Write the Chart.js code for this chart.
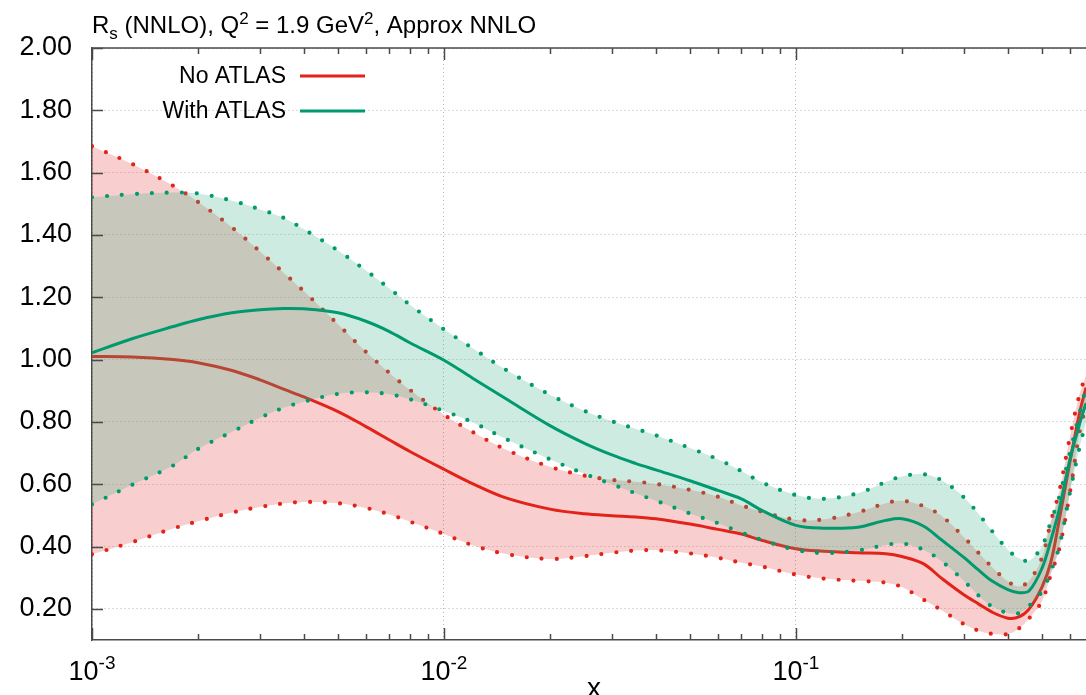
<!DOCTYPE html>
<html>
<head>
<meta charset="utf-8">
<script src="https://cdn.jsdelivr.net/npm/chart.js@4.4.0/dist/chart.umd.min.js"></script>
<style>
  html, body { margin: 0; padding: 0; background: #fff; }
  #wrap { width: 1086px; height: 695px; }
</style>
</head>
<body>
<div id="wrap"><canvas id="chart"></canvas></div>
<script>
// x grid shared by all curves
const xValues = [0.001, 0.0013, 0.0017, 0.002, 0.0025, 0.003, 0.0035, 0.004, 0.005, 0.006,
  0.007, 0.008, 0.01, 0.012, 0.015, 0.02, 0.025, 0.03, 0.035, 0.04,
  0.05, 0.06, 0.07, 0.08, 0.1, 0.12, 0.15, 0.18, 0.2, 0.23,
  0.26, 0.3, 0.33, 0.36, 0.4, 0.43, 0.46, 0.5, 0.53, 0.56,
  0.6, 0.64, 0.667];

// No ATLAS
const noAtlasCentral = [1.01, 1.008, 1.0, 0.99, 0.965, 0.935, 0.905, 0.88, 0.833, 0.785,
  0.742, 0.705, 0.648, 0.603, 0.556, 0.52, 0.505, 0.499, 0.495, 0.489,
  0.472, 0.455, 0.44, 0.42, 0.393, 0.385, 0.38, 0.377, 0.368, 0.345,
  0.297, 0.245, 0.216, 0.19, 0.17, 0.174, 0.2, 0.27, 0.35, 0.485,
  0.67, 0.83, 0.91];
const noAtlasUpper = [1.685, 1.628, 1.558, 1.506, 1.424, 1.347, 1.279, 1.219, 1.113, 1.025,
  0.957, 0.903, 0.823, 0.769, 0.711, 0.656, 0.628, 0.614, 0.608, 0.601,
  0.582, 0.56, 0.532, 0.512, 0.486, 0.487, 0.51, 0.539, 0.547, 0.53,
  0.497, 0.43, 0.38, 0.335, 0.288, 0.272, 0.29, 0.364, 0.48, 0.577,
  0.75, 0.89, 0.95];
const noAtlasLower = [0.375, 0.414, 0.458, 0.481, 0.509, 0.527, 0.538, 0.543, 0.539, 0.524,
  0.503, 0.48, 0.44, 0.405, 0.376, 0.36, 0.369, 0.38, 0.387, 0.388,
  0.378, 0.364, 0.348, 0.336, 0.31, 0.297, 0.29, 0.284, 0.27, 0.23,
  0.195, 0.151, 0.13, 0.12, 0.119, 0.137, 0.17, 0.225, 0.31, 0.393,
  0.571, 0.77, 0.85];

// With ATLAS
const withAtlasCentral = [1.022, 1.067, 1.106, 1.128, 1.15, 1.16, 1.164, 1.163, 1.15, 1.123,
  1.09, 1.054, 0.998, 0.942, 0.874, 0.788, 0.732, 0.694, 0.667, 0.646,
  0.611, 0.58, 0.553, 0.516, 0.468, 0.459, 0.462, 0.484, 0.489, 0.466,
  0.42, 0.365, 0.325, 0.29, 0.262, 0.252, 0.258, 0.33, 0.42, 0.52,
  0.678, 0.795, 0.86];
const withAtlasUpper = [1.521, 1.531, 1.536, 1.533, 1.51, 1.482, 1.455, 1.418, 1.35, 1.286,
  1.228, 1.176, 1.097, 1.038, 0.967, 0.887, 0.836, 0.802, 0.778, 0.757,
  0.716, 0.68, 0.642, 0.606, 0.565, 0.553, 0.571, 0.607, 0.625, 0.632,
  0.612, 0.558, 0.505, 0.451, 0.39, 0.362, 0.355, 0.40, 0.48, 0.56,
  0.70, 0.83, 0.91];
const withAtlasLower = [0.535, 0.598, 0.66, 0.713, 0.768, 0.813, 0.845, 0.865, 0.89, 0.895,
  0.889, 0.873, 0.835, 0.80, 0.745, 0.68, 0.634, 0.60, 0.571, 0.547,
  0.506, 0.475, 0.445, 0.421, 0.389, 0.379, 0.387, 0.405, 0.41, 0.39,
  0.352, 0.29, 0.243, 0.208, 0.187, 0.186, 0.21, 0.255, 0.32, 0.40,
  0.571, 0.72, 0.80];

const yTicks = [0.2, 0.4, 0.6, 0.8, 1.0, 1.2, 1.4, 1.6, 1.8, 2.0];
const xTicks = [0.001, 0.01, 0.1];
const xTickExponents = ['-3', '-2', '-1'];
const seriesNames = ['No ATLAS', 'With ATLAS'];

const RED = '#e2231a';
const GREEN = '#009a6e';
const RED_FILL = 'rgba(227,63,59,0.25)';
const GREEN_FILL = 'rgba(55,175,131,0.25)';
const AXIS = '#4a4a4a';
const FONT = '"Liberation Sans", Arial, Helvetica, sans-serif';

const pts = (ys) => xValues.map((x, i) => ({ x: x, y: ys[i] }));

const dotted = (ys, color, order, fillTo, fillColor) => ({
  data: pts(ys),
  borderColor: color,
  borderWidth: 4.2,
  borderDash: [0, 15],
  borderCapStyle: 'round',
  fill: fillTo === undefined ? false : fillTo,
  backgroundColor: fillColor || 'transparent',
  pointRadius: 0,
  tension: 0.35,
  order: order,
});

const solid = (ys, color, order) => ({
  data: pts(ys),
  borderColor: color,
  borderWidth: 3,
  fill: false,
  pointRadius: 0,
  tension: 0.35,
  order: order,
});

// draws a run of text pieces with sub/superscripts
function drawRich(ctx, x, y, parts, align) {
  let total = 0;
  parts.forEach(p => { ctx.font = p.size + 'px ' + FONT; total += ctx.measureText(p.t).width; });
  let cx = align === 'center' ? x - total / 2 : x;
  ctx.textAlign = 'left';
  ctx.textBaseline = 'alphabetic';
  parts.forEach(p => {
    ctx.font = p.size + 'px ' + FONT;
    ctx.fillText(p.t, cx, y + (p.dy || 0));
    cx += ctx.measureText(p.t).width;
  });
}

const decorations = {
  id: 'decorations',
  afterDraw(chart) {
    const ctx = chart.ctx;
    const area = chart.chartArea;
    const xs = chart.scales.x;
    const ys = chart.scales.y;
    ctx.save();

    // top border
    ctx.strokeStyle = AXIS;
    ctx.lineWidth = 1.5;
    ctx.beginPath();
    ctx.moveTo(area.left, area.top);
    ctx.lineTo(area.right, area.top);
    ctx.stroke();

    // inward ticks
    ctx.lineWidth = 1.5;
    ctx.beginPath();
    yTicks.forEach(v => {
      const py = Math.round(ys.getPixelForValue(v)) + 0.5;
      ctx.moveTo(area.left, py);
      ctx.lineTo(area.left + 11, py);
    });
    for (let d = -3; d <= -1; d++) {
      for (let m = 1; m <= 9; m++) {
        const v = m * Math.pow(10, d);
        if (v > xs.max) continue;
        const px = Math.round(xs.getPixelForValue(v)) + 0.5;
        const len = m === 1 ? 12 : 6;
        ctx.moveTo(px, area.bottom);
        ctx.lineTo(px, area.bottom - len);
        ctx.moveTo(px, area.top);
        ctx.lineTo(px, area.top + len);
      }
    }
    ctx.stroke();

    ctx.fillStyle = '#000';
    // x tick labels
    xTicks.forEach((v, i) => {
      const px = xs.getPixelForValue(v);
      drawRich(ctx, px, 680, [{ t: '10', size: 27 }, { t: xTickExponents[i], size: 19, dy: -11 }], 'center');
    });
    // x axis title
    ctx.font = '28px ' + FONT;
    ctx.textAlign = 'center';
    ctx.fillText('x', 594, 697);

    // title
    drawRich(ctx, 92, 33, [
      { t: 'R', size: 24 }, { t: 's', size: 17, dy: 6 },
      { t: ' (NNLO), Q', size: 24 }, { t: '2', size: 17, dy: -9 },
      { t: ' = 1.9 GeV', size: 24 }, { t: '2', size: 17, dy: -9 },
      { t: ', Approx NNLO', size: 24 },
    ]);

    // legend
    const legendRows = [{ y: 76, color: RED }, { y: 111, color: GREEN }];
    legendRows.forEach((row, i) => {
      ctx.font = '23px ' + FONT;
      ctx.textAlign = 'right';
      ctx.textBaseline = 'middle';
      ctx.fillStyle = '#000';
      ctx.fillText(seriesNames[i], 286, row.y + 1);
      ctx.strokeStyle = row.color;
      ctx.lineWidth = 3;
      ctx.beginPath();
      ctx.moveTo(300, row.y);
      ctx.lineTo(365, row.y);
      ctx.stroke();
    });
    ctx.restore();
  }
};

new Chart(document.getElementById('chart'), {
  type: 'line',
  data: {
    datasets: [
      dotted(noAtlasUpper, RED, 6, 1, RED_FILL),
      dotted(noAtlasLower, RED, 5),
      solid(noAtlasCentral, RED, 4),
      dotted(withAtlasUpper, GREEN, 3, 4, GREEN_FILL),
      dotted(withAtlasLower, GREEN, 2),
      solid(withAtlasCentral, GREEN, 1),
    ],
  },
  options: {
    responsive: true,
    maintainAspectRatio: false,
    animation: false,
    devicePixelRatio: 1,
    layout: { padding: { top: 48, right: 0, bottom: 0, left: 0 } },
    plugins: {
      legend: { display: false },
      tooltip: { enabled: false },
    },
    scales: {
      x: {
        type: 'logarithmic',
        min: 0.001,
        max: 0.667,
        afterBuildTicks: (scale) => { scale.ticks = xTicks.map(v => ({ value: v })); },
        afterFit: (scale) => { scale.height = 55; },
        ticks: { display: false },
        grid: { color: 'rgba(150,150,150,0.7)', lineWidth: 1, drawTicks: false },
        border: { display: true, color: AXIS, width: 1.5, dash: [1, 3] },
      },
      y: {
        type: 'linear',
        min: 0.1,
        max: 2.0,
        afterBuildTicks: (scale) => { scale.ticks = yTicks.map(v => ({ value: v })); },
        afterFit: (scale) => { scale.width = 92; },
        ticks: {
          color: '#000',
          padding: 20,
          font: { family: FONT, size: 27 },
          callback: (v) => Number(v).toFixed(2),
        },
        grid: { color: 'rgba(150,150,150,0.7)', lineWidth: 1, drawTicks: false },
        border: { display: true, color: AXIS, width: 1.5, dash: [1, 3] },
      },
    },
  },
  plugins: [decorations],
});
</script>
</body>
</html>
